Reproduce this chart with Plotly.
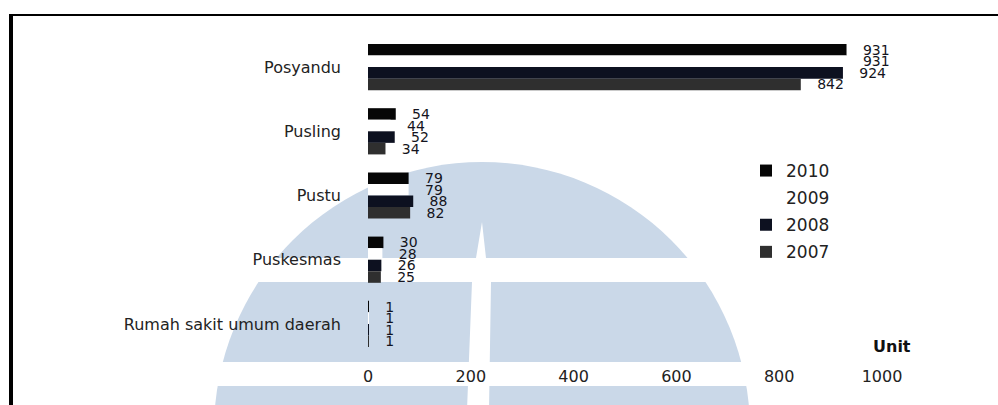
import plotly.graph_objects as go

categories = ["Posyandu", "Pusling", "Pustu", "Puskesmas", "Rumah sakit umum daerah"]
years = ["2010", "2009", "2008", "2007"]
v2010 = [931, 54, 79, 30, 1]
v2009 = [931, 44, 79, 28, 1]
v2008 = [924, 52, 88, 26, 1]
v2007 = [842, 34, 82, 25, 1]
series = [v2010, v2009, v2008, v2007]
colors = ["#060606", "#ffffff", "#0d1120", "#2f2f2f"]
x_ticks = [0, 200, 400, 600, 800, 1000]

W, H = 998, 405
ML, MR, MT, MB = 368, 116, 35, 49
PW, PH = W - ML - MR, H - MT - MB


def px(x):
    return (x - ML) / PW


def py(y):
    return (H - MB - y) / PH


FONT = "DejaVu Sans"
fig = go.Figure()
for name, vals, col in zip(years, series, colors):
    fig.add_trace(go.Bar(
        y=categories, x=vals, orientation="h", name=name,
        marker=dict(color=col, line=dict(width=0)),
        text=vals, texttemplate="\u00a0\u00a0\u00a0%{x}", textposition="outside",
        textfont=dict(family=FONT, size=14, color="#141420"),
        constraintext="none", cliponaxis=False, legendgroup=name,
    ))

wm = "#cad8e8"
shapes = [
    dict(type="circle", xref="paper", yref="paper", layer="below",
         x0=px(482 - 268), x1=px(482 + 268), y0=py(430 + 268), y1=py(162),
         fillcolor=wm, line=dict(width=0)),
    dict(type="rect", xref="paper", yref="paper", layer="below",
         x0=px(150), x1=px(820), y0=py(282), y1=py(258),
         fillcolor="white", line=dict(width=0)),
    dict(type="rect", xref="paper", yref="paper", layer="below",
         x0=px(150), x1=px(820), y0=py(386), y1=py(362),
         fillcolor="white", line=dict(width=0)),
    dict(type="path", xref="paper", yref="paper", layer="below",
         path="M {a},{b} L {c},{d} L {e},{f} L {g},{h} L {i},{j} L {k},{l} Z".format(
             a=px(482), b=py(222), c=px(486), d=py(258), e=px(491), f=py(282),
             g=px(489), h=py(410), i=px(467), j=py(410), k=px(472), l=py(282)),
         fillcolor="white", line=dict(width=0)),
    # frame
    dict(type="line", xref="paper", yref="paper", x0=px(11), x1=px(11), y0=py(14), y1=py(410),
         line=dict(color="black", width=4)),
    dict(type="line", xref="paper", yref="paper", x0=px(10), x1=px(1000), y0=py(15), y1=py(15),
         line=dict(color="black", width=2)),
]

fig.update_layout(
    width=W, height=H,
    margin=dict(l=ML, r=MR, t=MT, b=MB, pad=0),
    paper_bgcolor="white", plot_bgcolor="rgba(0,0,0,0)",
    barmode="group", bargap=0.28, bargroupgap=0,
    font=dict(family=FONT, color="#222"),
    xaxis=dict(range=[0, 1000], tickvals=x_ticks, showgrid=False, zeroline=False,
               showline=False, ticks="", tickfont=dict(size=16, color="#222"),
               ticklabelstandoff=9),
    yaxis=dict(type="category", categoryorder="array", categoryarray=categories,
               autorange="reversed", showgrid=False, zeroline=False, showline=False,
               ticks="", tickfont=dict(size=16, color="#222"), ticklabelstandoff=26),
    legend=dict(x=px(746), y=py(153), xanchor="left", yanchor="top",
                traceorder="grouped", tracegroupgap=2, font=dict(size=17, color="#222"),
                bgcolor="rgba(0,0,0,0)"),
    shapes=shapes,
    annotations=[dict(text="<b>Unit</b>", x=px(892), y=py(346), xref="paper", yref="paper",
                      xanchor="center", yanchor="middle",
                      showarrow=False, font=dict(size=16, color="#111"))],
    showlegend=True,
)
fig.write_html("out.html")
